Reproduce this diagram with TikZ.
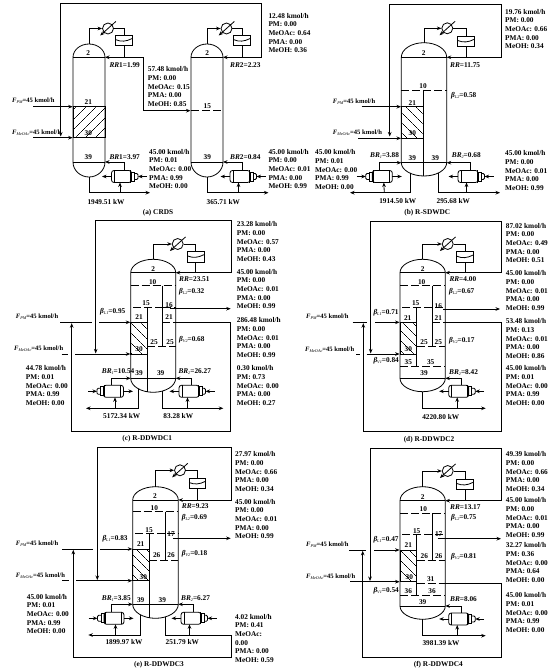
\documentclass[tikz,border=0pt]{standalone}
\usepackage{fontspec}
\setmainfont{Liberation Serif}
\usepackage{tikz}
\usetikzlibrary{arrows.meta, patterns.meta}

\tikzset{
    pipe/.style={line width=0.8pt},
    flow/.style={pipe,-{Stealth[length=4.5pt,width=3.6pt]}},
    shell/.style={line width=0.8pt},
    wall/.style={line width=0.8pt},
    tray/.style={line width=0.9pt, dash pattern=on 8pt off 3pt},
    streamtext/.style={anchor=north west, yshift=4.3pt, inner sep=0pt, align=left, font=\fontsize{7.3}{8.67}\selectfont\bfseries},
    tag/.style={anchor=west, inner sep=0pt, font=\fontsize{7.3}{8.67}\selectfont\bfseries},
    centretag/.style={tag, anchor=center},
    condcircle/.style={circle, draw, line width=0.8pt, minimum size=11pt, inner sep=0pt},
    drum/.style={rectangle, draw, line width=0.8pt, minimum width=16.5pt, minimum height=10.5pt, inner sep=0pt},
    rebshell/.style={rectangle, rounded corners=2.5pt, draw, line width=0.8pt, minimum width=20pt, minimum height=12pt, inner sep=0pt}
}

\newcommand{\smallsub}[1]{\raisebox{-1pt}{\fontsize{4.2}{4.2}\selectfont\mdseries\itshape #1}}
\newcommand{\Fpm}{{\fontsize{6.6}{8}\selectfont\textit{F}\smallsub{PM}=45 kmol/h}}
\newcommand{\Fme}{{\fontsize{6.6}{8}\selectfont\textit{F}\smallsub{MeOAc}=45 kmol/h}}
\newcommand{\betatag}[2]{\textit{β}\smallsub{#1}=#2}

% name, left, right, top apex, top tangent, bottom tangent, bottom apex
\newcommand{\colshell}[7]{
    \coordinate (#1tl) at (#2,#5);
    \coordinate (#1tr) at (#3,#5);
    \coordinate (#1bl) at (#2,#6);
    \coordinate (#1br) at (#3,#6);
    \coordinate (#1top) at ({(#2+#3)/2},#4);
    \coordinate (#1bot) at ({(#2+#3)/2},#7);
    \draw[shell] (#1tl) .. controls (#2,{#5-.55*(#5-#4)}) and ({#2+.225*(#3-#2)},#4) .. (#1top)
        .. controls ({#3-.225*(#3-#2)},#4) and (#3,{#5-.55*(#5-#4)}) .. (#1tr) -- (#1br)
        .. controls (#3,{#6+.55*(#7-#6)}) and ({#3-.225*(#3-#2)},#7) .. (#1bot)
        .. controls ({#2+.225*(#3-#2)},#7) and (#2,{#6+.55*(#7-#6)}) .. (#1bl) -- cycle;
    \draw[shell] (#1tl) -- (#1tr) (#1bl) -- (#1br);
}

% name, circle x, circle y, drum x, drum y
\newcommand{\condenser}[5]{
    \node[condcircle] (#1cond) at (#2,#3) {};
    \node[drum] (#1drum) at (#4,#5) {};
    \draw[flow] (#2+7.8,#3-7) -- (#2-7.8,#3+7);
    \draw[pipe] (#4-8.2,#5-0.8) .. controls (#4-3,#5+1.4) and (#4+2,#5+1.2) .. (#4+8.2,#5-2);
    \draw[flow] (#1top) |- (#1cond);
    \draw[pipe] (#1cond) -| (#1drum);
    \draw[flow] (#1drum) |- (#1tr);
}

% name, centre x, centre y, head side (1 right, -1 left)
\newcommand{\reboiler}[4]{
    \node[rebshell] (#1) at (#2,#3) {};
    \begin{scope}[shift={(#2,#3)}, xscale=#4]
        \draw[pipe] (-7,-6) -- (-7,6) (9,-6) -- (9,6);
        \draw[pipe] (10,-4.5) rectangle (13,4.5);
        \draw[pipe, rounded corners=1.2pt] (13,-3) -- (16.5,-3) -- (16.5,3) -- (13,3);
        \coordinate (#1in) at (25.5,0);
        \coordinate (#1head) at (16.5,0);
        \coordinate (#1edge) at (-10,0);
        \coordinate (#1out) at (-19.5,0);
        \coordinate (#1stem) at (2.5,-6);
        \coordinate (#1foot) at (-1.5,6);
    \end{scope}
    \draw[flow] (#1in) -- (#1head);
    \draw[flow] (#1edge) -- (#1out);
}

% name, x, y of first row, flow, PM, MeOAc, PMA, MeOH
\newcommand{\streamdata}[8]{
    \node[streamtext] (#1) at (#2,#3) {#4 kmol/h\\PM: #5\\MeOAc: #6\\PMA: #7\\MeOH: #8};
}

% name, start, gap from, gap to, end, y
\newcommand{\feedline}[6]{
    \coordinate (#1start) at (#2,#6);
    \coordinate (#1gapa) at (#3,#6);
    \coordinate (#1gapb) at (#4,#6);
    \coordinate (#1in) at (#5,#6);
    \draw[pipe] (#1start) -- (#1gapa);
    \draw[flow] (#1gapb) -- (#1in);
}

% name, far x, top y, return x, end y
\newcommand{\recycle}[5]{
    \coordinate (#1loop) at (#2,#3);
    \coordinate (#1ret) at (#4,#5);
    \draw[flow] (#1drum |- #1tr) -| (#1loop) -| (#1ret);
}

% name, x0, y0, x1, y1, angle
\newcommand{\packing}[6]{
    \draw[shell, pattern={Lines[angle=#6,distance=7.4pt,line width=0.6pt]}] (#2,#3) rectangle (#4,#5) node[inner sep=0pt] (#1) {};
}

\begin{document}
\begin{tikzpicture}[x=1pt, y=-1pt]
\useasboundingbox (0,0) rectangle (550,671);

% (a) CRDS
\packing{apack}{73}{106.7}{105}{137.7}{45}
\colshell{aone}{73}{105}{44}{57.3}{162}{177}
\colshell{atwo}{191}{223}{44}{57.3}{162}{177}
\condenser{aone}{108}{28.5}{124}{40.5}
\condenser{atwo}{226.5}{28.5}{242}{40.5}
\draw[tray] (191,110.7) -- (223,110.7);
\feedline{apm}{33}{33}{33}{72.7}{106.7}
\feedline{ame}{33}{33}{33}{72.7}{137.7}
\coordinate (abend) at (143.3,57.3);
\coordinate (afeed) at (190.5,110.7);
\draw[flow] (aonedrum |- aonetr) -- (abend) |- (afeed);
\recycle{atwo}{261.7}{3.3}{60.7}{136.5}
\reboiler{areba}{121.5}{176.5}{1}
\reboiler{arebb}{240}{176.5}{1}
\draw[flow] (arebastem) |- (aonebr);
\draw[flow] (arebbstem) |- (atwobr);
\coordinate (aprodone) at (150,192.7);
\coordinate (aprodtwo) at (268.5,192.7);
\draw[flow] (aonebot) |- (aprodone);
\draw[flow] (atwobot) |- (aprodtwo);
\coordinate (afoota) at (120,192.7);
\coordinate (afootb) at (238.5,192.7);
\draw[flow] (afoota) -- (arebafoot);
\draw[flow] (afootb) -- (arebbfoot);
\foreach \name/\xpos/\ypos/\txt in {a2/88.3/53/2, a21/88.3/102.5/21, a30/88.3/133.3/30, a39/88.3/157/39,
    b2/207.3/53/2, b15/207.3/106/15, b39/207.3/157/39,
    aqa/106/201.7/1949.51 kW, aqb/223.3/201.7/365.71 kW, acap/158/212.5/(a) CRDS}
    \node[centretag] (\name) at (\xpos,\ypos) {\txt};
\node[tag] (afpm) at (12,101) {\Fpm};
\node[tag] (afme) at (12,132.7) {\Fme};
\node[tag] (arra) at (109.3,65) {\textit{RR}1=1.99};
\node[tag] (arrb) at (230,65) {\textit{RR}2=2.23};
\node[tag] (abra) at (109.3,156.7) {\textit{BR}1=3.97};
\node[tag] (abrb) at (230,156.7) {\textit{BR}2=0.84};
\streamdata{asa}{147.7}{71}{57.48}{0.00}{0.15}{0.00}{0.85}
\streamdata{asb}{149}{153.3}{45.00}{0.01}{0.00}{0.99}{0.00}
\streamdata{asc}{268.3}{17.3}{12.48}{0.00}{0.64}{0.00}{0.36}
\streamdata{asd}{268.3}{153.3}{45.00}{0.00}{0.01}{0.00}{0.99}

% (b) R-SDWDC
\packing{bpack}{401.3}{106.7}{423.7}{138.3}{-45}
\colshell{bc}{401.3}{446.7}{42.7}{57.3}{162.7}{176}
\condenser{bc}{447.3}{28.3}{466}{41.3}
\draw[tray] (401.3,90) -- (446.7,90);
\draw[wall] (423.7,90) -- (423.7,176);
\feedline{bpm}{361.7}{361.7}{361.7}{401}{106.7}
\feedline{bme}{358.3}{358.3}{358.3}{401}{138.3}
\recycle{bc}{501.3}{4}{389.7}{136.5}
\reboiler{breba}{382.3}{176.5}{-1}
\reboiler{brebb}{468}{176.5}{1}
\draw[flow] (brebastem) |- (bcbl);
\draw[flow] (brebbstem) |- (bcbr);
\coordinate (bdrawa) at (410,173.2);
\coordinate (bdrawb) at (438.3,173);
\coordinate (bproda) at (350,192.7);
\coordinate (bprodb) at (500,192.7);
\draw[flow] (bdrawa) |- (bproda);
\draw[flow] (bdrawb) |- (bprodb);
\coordinate (bfoota) at (384.3,192.7);
\coordinate (bfootb) at (466.5,192.7);
\draw[flow] (bfoota) -- (brebafoot);
\draw[flow] (bfootb) -- (brebbfoot);
\foreach \name/\xpos/\ypos/\txt in {c2/423.7/53/2, c10/423/86.5/10, c21/412.3/102.7/21, c30/412.3/133.3/30,
    c39a/412.3/158/39, c39b/435.3/158/39, bqa/397.7/200.7/1914.50 kW, bqb/453.3/200.7/295.68 kW, bcap/427.3/212.5/(b) R-SDWDC}
    \node[centretag] (\name) at (\xpos,\ypos) {\txt};
\node[tag] (bfpm) at (332.7,101.7) {\Fpm};
\node[tag] (bfme) at (332.7,132.7) {\Fme};
\node[tag] (brr) at (450,65) {\textit{RR}=11.75};
\node[tag] (bbe) at (451,96) {\betatag{L2}{0.58}};
\node[tag] (bbra) at (370,156) {\textit{BR}\smallsub{1}=3.88};
\node[tag] (bbrb) at (451.7,156) {\textit{BR}\smallsub{2}=0.68};
\streamdata{bsa}{505}{13.3}{19.76}{0.00}{0.66}{0.00}{0.34}
\streamdata{bsb}{315}{154}{45.00}{0.01}{0.00}{0.99}{0.00}
\streamdata{bsc}{505}{155}{45.00}{0.00}{0.01}{0.00}{0.99}

% (c) R-DDWDC1
\packing{cpack}{130.7}{322.3}{147.3}{354}{-45}
\colshell{cc}{130.7}{175.7}{259.3}{272.7}{378.3}{392.3}
\condenser{cc}{177.7}{244}{195.7}{256.7}
\draw[tray] (130.7,285.7) -- (175.7,285.7);
\draw[tray] (133,307.3) -- (162.3,307.3);
\draw[tray] (163,307.3) -- (175.7,307.3);
\draw[tray] (162.3,322.3) -- (175.7,322.3);
\draw[tray] (147.3,346) -- (175.7,346);
\draw[wall] (162.3,285.7) -- (162.3,346);
\draw[wall] (147.3,307.3) -- (147.3,392);
\feedline{cpm}{60}{92}{99}{130.3}{322.3}
\feedline{cme}{61.7}{68}{75}{130.3}{354}
\recycle{cc}{231.3}{220.7}{95.7}{353.4}
\reboiler{creba}{113.5}{391.3}{-1}
\reboiler{crebb}{189}{391.3}{1}
\draw[flow] (crebastem) |- (ccbl);
\draw[flow] (crebbstem) |- (ccbr);
\coordinate (cdrawa) at (138.3,388.8);
\coordinate (cdrawb) at (162.7,391);
\coordinate (cproda) at (86,408.3);
\coordinate (cprodb) at (223.3,408.3);
\draw[flow] (cdrawa) |- (cproda);
\draw[flow] (cdrawb) |- (cprodb);
\coordinate (cfoota) at (115,408.3);
\coordinate (cfootb) at (187.5,408.3);
\draw[flow] (cfoota) -- (crebafoot);
\draw[flow] (cfootb) -- (crebbfoot);
\coordinate (csidea) at (170,308.7);
\coordinate (csideb) at (230.7,308.7);
\draw[flow] (csidea) -- (csideb);
\coordinate (cvapa) at (230.7,322.3);
\coordinate (cvapb) at (230.7,431);
\coordinate (cvapc) at (71.7,431);
\coordinate (cvapd) at (71.7,323.2);
\draw[flow] (cctr |- cvapa) -- (cvapa) -- (cvapb) -- (cvapc) -- (cvapd);
\foreach \name/\xpos/\ypos/\txt in {d2/153.2/269.3/2, d10/152.7/281.7/10, d15/146/303.3/15, d16/169/305/16,
    d21a/139/317.3/21, d21b/169/317.3/21, d25a/154/341.7/25, d25b/170/341.7/25, d30/139/349.5/30,
    d39a/139/373.3/39, d39b/160.7/373.3/39, cqa/121.7/416/5172.34 kW, cqb/178.3/416/83.28 kW, ccap/147.3/438.3/(c) R-DDWDC1}
    \node[centretag] (\name) at (\xpos,\ypos) {\txt};
\node[tag] (cfpm) at (15.7,316.7) {\Fpm};
\node[tag] (cfme) at (14,349) {\Fme};
\node[tag] (crr) at (179,279) {\textit{RR}=23.51};
\node[tag] (cba) at (100,311.7) {\betatag{L1}{0.95}};
\node[tag] (cbb) at (179,291.3) {\betatag{L2}{0.32}};
\node[tag] (cbc) at (179,340) {\betatag{V2}{0.68}};
\node[tag] (cbra) at (101.7,371.7) {\textit{BR}\smallsub{1}=10.54};
\node[tag] (cbrb) at (178.3,371.7) {\textit{BR}\smallsub{2}=26.27};
\streamdata{csa}{236.7}{225.7}{23.28}{0.00}{0.57}{0.00}{0.43}
\streamdata{csb}{236.7}{273.3}{45.00}{0.00}{0.01}{0.00}{0.99}
\streamdata{csc}{236.7}{321.7}{286.48}{0.00}{0.01}{0.00}{0.99}
\streamdata{csd}{236.7}{370}{0.30}{0.73}{0.00}{0.00}{0.27}
\streamdata{cse}{25.7}{370}{44.78}{0.01}{0.00}{0.99}{0.00}

% (d) R-DDWDC2
\packing{dpack}{400}{322.3}{416.7}{354}{-45}
\colshell{dc}{400}{445.3}{259.3}{272.7}{378.3}{391.7}
\condenser{dc}{447.7}{244}{465}{257}
\draw[tray] (400,285.7) -- (445.3,285.7);
\draw[tray] (402,307.3) -- (432,307.3);
\draw[tray] (435,307.3) -- (445.3,307.3);
\draw[tray] (432,322.3) -- (445.3,322.3);
\draw[tray] (416.7,346) -- (445.3,346);
\draw[tray] (400,366) -- (445.3,366);
\draw[wall] (432,285.7) -- (432,346);
\draw[wall] (416.7,307.3) -- (416.7,366);
\feedline{dpm}{352.7}{366.5}{375}{399.6}{322.3}
\feedline{dme}{356}{360}{366.5}{399.6}{354}
\recycle{dc}{501}{221}{370.7}{353.4}
\reboiler{dreb}{458.7}{391.3}{1}
\draw[flow] (drebstem) |- (dcbr);
\coordinate (dprod) at (485.7,408.3);
\coordinate (dfoot) at (457.2,408.3);
\draw[flow] (dcbot) |- (dprod);
\draw[flow] (dfoot) -- (drebfoot);
\coordinate (dsidea) at (443.3,309);
\coordinate (dsideb) at (500,309);
\draw[flow] (dsidea) -- (dsideb);
\coordinate (dvapa) at (501,322.3);
\coordinate (dvapb) at (501,431);
\coordinate (dvapc) at (363.3,431);
\coordinate (dvapd) at (363.3,323.2);
\draw[flow] (dctr |- dvapa) -- (dvapa) -- (dvapb) -- (dvapc) -- (dvapd);
\foreach \name/\xpos/\ypos/\txt in {e2/422.7/269.3/2, e10/421.7/281.7/10, e15/415.7/303.3/15, e16/438.3/305.7/16,
    e21a/407.7/317.7/21, e21b/438.3/317.7/21, e25a/424/341.7/25, e25b/438.3/341.7/25, e30/408.3/349.3/30,
    e35a/408.3/361.7/35, e35b/430.7/361.7/35, e39/424/373.3/39, dq/440.7/416.7/4220.80 kW, dcap/429/439.7/(d) R-DDWDC2}
    \node[centretag] (\name) at (\xpos,\ypos) {\txt};
\node[tag] (dfpm) at (306,316.7) {\Fpm};
\node[tag] (dfme) at (305,349.3) {\Fme};
\node[tag] (drr) at (449.3,279.3) {\textit{RR}=4.00};
\node[tag] (dba) at (373.3,312.3) {\betatag{L1}{0.71}};
\node[tag] (dbb) at (449,291.7) {\betatag{L2}{0.67}};
\node[tag] (dbc) at (449,340.7) {\betatag{V2}{0.17}};
\node[tag] (dbd) at (373.3,361) {\betatag{V1}{0.84}};
\node[tag] (dbr) at (449,372.3) {\textit{BR}\smallsub{2}=8.42};
\streamdata{dsa}{505.7}{227.3}{87.02}{0.00}{0.49}{0.00}{0.51}
\streamdata{dsb}{505.7}{275}{45.00}{0.00}{0.01}{0.00}{0.99}
\streamdata{dsc}{505.7}{322.7}{53.48}{0.13}{0.01}{0.00}{0.86}
\streamdata{dsd}{505.7}{370}{45.00}{0.01}{0.00}{0.99}{0.00}

% (e) R-DDWDC3
\packing{epack}{132.7}{549}{149}{580.7}{-45}
\colshell{ec}{132.7}{178.3}{486.7}{500}{604.3}{618.3}
\condenser{ec}{180}{470.3}{197.3}{483.3}
\draw[tray] (132.7,511.7) -- (178.3,511.7);
\draw[tray] (135,533.7) -- (165,533.7);
\draw[tray] (167,533.7) -- (178.3,533.7);
\draw[tray] (149,560) -- (178.3,560);
\draw[wall] (165,511.7) -- (165,560);
\draw[wall] (149,533.7) -- (149,618);
\feedline{epm}{62.3}{93}{100}{132.3}{549}
\feedline{eme}{62.3}{68.5}{76}{132.3}{580.7}
\recycle{ec}{231}{447.7}{97.3}{580}
\reboiler{ereba}{114}{618.3}{-1}
\reboiler{erebb}{191}{618.3}{1}
\draw[flow] (erebastem) |- (ecbl);
\draw[flow] (erebbstem) |- (ecbr);
\coordinate (edrawa) at (140.7,615);
\coordinate (edrawb) at (165,617);
\coordinate (eproda) at (88.3,635);
\coordinate (evapa) at (231,635);
\coordinate (evapb) at (231,657.3);
\coordinate (evapc) at (73.3,657.3);
\coordinate (evapd) at (73.3,549.8);
\draw[flow] (edrawa) |- (eproda);
\draw[flow] (edrawb) |- (evapa) -- (evapb) -- (evapc) -- (evapd);
\coordinate (efoota) at (115.5,635);
\coordinate (efootb) at (189.5,635);
\draw[flow] (efoota) -- (erebafoot);
\draw[flow] (efootb) -- (erebbfoot);
\coordinate (esidea) at (173,538.3);
\coordinate (esideb) at (230.7,538.3);
\draw[flow] (esidea) -- (esideb);
\foreach \name/\xpos/\ypos/\txt in {f2/155/495.7/2, f10/154.3/507.7/10, f15/149/530/15, f17/171/534/17,
    f21/140.7/544.3/21, f26a/156.7/555/26, f26b/171/555/26, f30/143.3/576.7/30,
    f39a/140.7/600/39, f39b/162.3/600/39, eqa/124/642.3/1899.97 kW, eqb/182.3/642.3/251.79 kW, ecap/159/664.7/(e) R-DDWDC3}
    \node[centretag] (\name) at (\xpos,\ypos) {\txt};
\node[tag] (efpm) at (15.7,544) {\Fpm};
\node[tag] (efme) at (15.7,575.7) {\Fme};
\node[tag] (err) at (181.7,505.7) {\textit{RR}=9.23};
\node[tag] (eba) at (102.3,538.3) {\betatag{L1}{0.83}};
\node[tag] (ebb) at (181.7,518) {\betatag{L2}{0.69}};
\node[tag] (ebc) at (181.7,554) {\betatag{V2}{0.18}};
\node[tag] (ebra) at (101.7,598.3) {\textit{BR}\smallsub{1}=3.85};
\node[tag] (ebrb) at (181,598.3) {\textit{BR}\smallsub{2}=6.27};
\streamdata{esa}{235}{456}{27.97}{0.00}{0.66}{0.00}{0.34}
\streamdata{esb}{235}{503.3}{45.00}{0.00}{0.01}{0.00}{0.99}
\node[streamtext] (esc) at (235,618.3) {4.02 kmol/h\\PM: 0.41\\MeOAc:\\0.00\\PMA: 0.00\\MeOH: 0.59};
\streamdata{esd}{26.7}{598.3}{45.00}{0.01}{0.00}{0.99}{0.00}

% (f) R-DDWDC4
\packing{fpack}{400}{550}{416.7}{581.7}{-45}
\colshell{fc}{400}{445.3}{486.7}{500.7}{606}{619.3}
\condenser{fc}{447.7}{471}{465}{484.3}
\draw[tray] (400,513.3) -- (445.3,513.3);
\draw[tray] (402,534.3) -- (432,534.3);
\draw[tray] (435,534.3) -- (445.3,534.3);
\draw[tray] (416.7,560.7) -- (445.3,560.7);
\draw[tray] (416.7,583.3) -- (445.3,583.3);
\draw[tray] (400,595) -- (445.3,595);
\draw[wall] (432,513.3) -- (432,560.7);
\draw[wall] (416.7,534.3) -- (416.7,595);
\feedline{fpm}{349.3}{366}{374}{399.6}{550}
\feedline{fme}{350}{350}{350}{399.6}{581.7}
\recycle{fc}{501}{448.3}{370}{581}
\reboiler{freb}{458.7}{619}{1}
\draw[flow] (frebstem) |- (fcbr);
\coordinate (fprod) at (485.7,635.7);
\coordinate (ffoot) at (457.2,635.7);
\draw[flow] (fcbot) |- (fprod);
\draw[flow] (ffoot) -- (frebfoot);
\coordinate (fsidea) at (437.7,538.7);
\coordinate (fsideb) at (501,538.7);
\draw[flow] (fsidea) -- (fsideb);
\coordinate (fvapa) at (501.7,583.3);
\coordinate (fvapb) at (501.7,657.7);
\coordinate (fvapc) at (362.7,657.7);
\coordinate (fvapd) at (362.7,550.8);
\draw[flow] (fctr |- fvapa) -- (fvapa) -- (fvapb) -- (fvapc) -- (fvapd);
\foreach \name/\xpos/\ypos/\txt in {g2/422.7/496.7/2, g10/423.3/509/10, g15/416.7/531/15, g17/438.7/534/17,
    g21/408.3/545/21, g26a/424.3/556/26, g26b/438.7/556/26, g30/409.3/576.7/30, g31/430.7/579/31,
    g36a/408.3/590.7/36, g36b/432/590.7/36, g39/422.7/601.7/39, fq/441/642.7/3981.39 kW, fcap/438.3/664.7/(f) R-DDWDC4}
    \node[centretag] (\name) at (\xpos,\ypos) {\txt};
\node[tag] (ffpm) at (306,545) {\Fpm};
\node[tag] (ffme) at (306,576.7) {\Fme};
\node[tag] (frr) at (450,507) {\textit{RR}=13.17};
\node[tag] (fba) at (373.3,540) {\betatag{L1}{0.47}};
\node[tag] (fbb) at (451,517.7) {\betatag{L2}{0.75}};
\node[tag] (fbc) at (451,556.7) {\betatag{V2}{0.81}};
\node[tag] (fbd) at (373.3,590.7) {\betatag{V1}{0.54}};
\node[tag] (fbr) at (450,599.3) {\textit{BR}=8.06};
\streamdata{fsa}{505.7}{455.7}{49.39}{0.00}{0.66}{0.00}{0.34}
\streamdata{fsb}{505.7}{501.7}{45.00}{0.00}{0.01}{0.00}{0.99}
\streamdata{fsc}{505.7}{546.7}{32.27}{0.36}{0.00}{0.64}{0.00}
\streamdata{fsd}{505.7}{597}{45.00}{0.01}{0.00}{0.99}{0.00}
\end{tikzpicture}
\end{document}
